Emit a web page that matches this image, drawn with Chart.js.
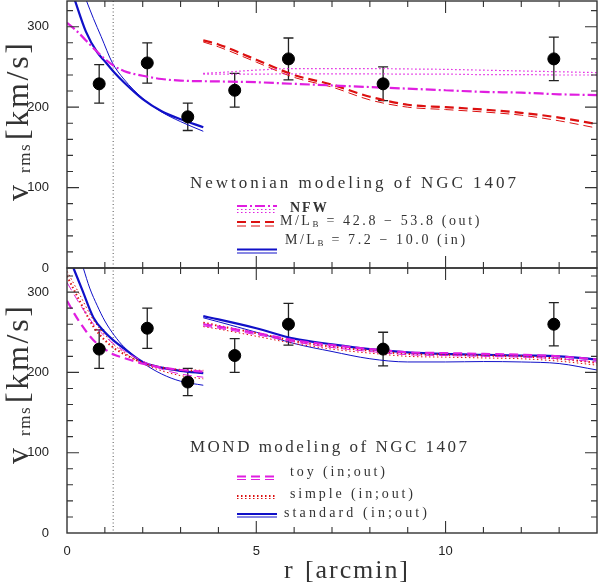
<!DOCTYPE html>
<html>
<head>
<meta charset="utf-8">
<title>NGC 1407 v_rms</title>
<script src="https://cdn.jsdelivr.net/npm/chart.js@4.4.1/dist/chart.umd.min.js"></script>
<style>
  body { margin: 0; background: #fff; }
  canvas { display: block; }
</style>
</head>
<body>
<canvas id="rmsChart" width="600" height="583"></canvas>
<script>
// measured v_rms (same points in both panels)
const rData = [0.85, 2.12, 3.19, 4.43, 5.85, 8.35, 12.86];
const vData = [229, 255, 188, 221, 260, 229, 260];
const vErr = [24, 25, 17, 21, 26, 21, 27];
const rEff = 1.22;

// Newtonian models (top panel)
const rNfw = [0, 0.25, 0.5, 0.75, 1, 1.25, 1.5, 2, 2.5, 3, 4, 5, 6, 7, 8, 9, 10, 11, 12, 13, 14];
const vNfw = [305, 295, 283, 271, 260, 251, 245, 239, 235, 233, 232, 231, 229, 227, 225, 223, 221, 219, 218, 216, 215];
const rOut = [3.6, 4, 5, 6, 7, 8, 9, 10, 11, 12, 13, 14];
const vNfwDot1 = [242, 243, 246, 248, 248, 248, 247.5, 247, 246, 245, 244, 243];
const vNfwDot2 = [241, 241, 241, 241.5, 241.5, 241.5, 241, 241, 240.5, 240.5, 240, 240];
const vMlOut1 = [283, 278, 259, 240, 228, 213, 203, 200, 197, 193, 187, 179];
const vMlOut2 = [281, 275, 256, 237, 225, 209, 200, 197, 194, 190, 183, 174];
const rMlIn1 = [0.2, 0.5, 0.8, 1.0, 1.25, 1.5, 2.0, 2.5, 3.0, 3.6];
const vMlIn1 = [334, 294, 268, 257, 243, 231, 210, 195, 185, 175];
const rMlIn2 = [0.5, 0.7, 0.9, 1.2, 1.5, 2.0, 2.5, 3.0, 3.6];
const vMlIn2 = [334, 310, 288, 255, 235, 211, 194, 182, 170];

// MOND models (bottom panel)
const rIn = [0, 0.3, 0.7, 1.0, 1.25, 1.5, 2.0, 2.5, 3.0, 3.6];
const vToyIn1 = [289, 265, 240, 229, 222, 218, 211, 206, 203, 201];
const vToyIn2 = [312, 288, 260, 245, 235, 227, 214, 204, 198, 194];
const vSimpleIn1 = [320, 292, 257, 240, 230, 223, 212, 206, 203, 202];
const vSimpleIn2 = [326, 300, 265, 247, 234, 225, 211, 202, 196, 192];
const rStdIn1 = [0.17, 0.4, 0.7, 1.0, 1.25, 1.5, 2.0, 2.5, 3.0, 3.6];
const vStdIn1 = [330, 303, 268, 250, 239, 230, 213, 206, 202, 199];
const rStdIn2 = [0.43, 0.6, 0.8, 1.0, 1.25, 1.5, 2.0, 2.5, 3.0, 3.6];
const vStdIn2 = [330, 305, 283, 264, 246, 232, 212, 198, 189, 184];
const vToyOut1 = [260, 257, 249, 240, 234, 229, 225, 224, 223, 222, 220, 216];
const vToyOut2 = [258, 255, 247, 238, 231, 226, 222, 221, 220, 219, 217, 213];
const vSimpleOut1 = [262, 258, 249, 239, 232, 227, 223, 222, 221, 220, 217, 212];
const vSimpleOut2 = [257, 254, 245, 236, 229, 224, 220, 219, 218, 217, 214, 209];
const vStdOut1 = [270, 266, 255, 242, 235, 229, 225, 223, 222, 221, 220, 216];
const vStdOut2 = [268, 263, 250, 236, 226, 217, 213, 213, 213.5, 213, 211, 203];

const xTicksShown = [0, 5, 10];

const MAGENTA = "#e01ee0";
const RED = "#dc1010";
const BLUE = "#1010c8";
const INK = "#222";

const DASH_DOT = [10, 3, 2, 3];
const DASHED = [9, 5];
const DOTTED = [1.5, 2.5];


function curve(r, v, axis, color, width, dash) {
  return {
    type: "line",
    data: r.map((x, i) => ({ x: x, y: v[i] })),
    yAxisID: axis,
    borderColor: color,
    borderWidth: width,
    borderDash: dash || [],
    pointRadius: 0,
    cubicInterpolationMode: "monotone",
    fill: false,
  };
}

function points(axis) {
  return {
    type: "scatter",
    data: rData.map((x, i) => ({ x: x, y: vData[i] })),
    yAxisID: axis,
    showLine: false,
    pointRadius: 6,
    pointBackgroundColor: "#000",
    pointBorderColor: "#000",
    order: -1,
  };
}

const datasets = [
  curve(rNfw, vNfw, "yTop", MAGENTA, 2.2, DASH_DOT),
  curve(rOut, vNfwDot1, "yTop", MAGENTA, 1.2, DOTTED),
  curve(rOut, vNfwDot2, "yTop", MAGENTA, 1.2, DOTTED),
  curve(rOut, vMlOut1, "yTop", RED, 2.2, DASHED),
  curve(rOut, vMlOut2, "yTop", RED, 1, DASHED),
  curve(rMlIn1, vMlIn1, "yTop", BLUE, 2.2),
  curve(rMlIn2, vMlIn2, "yTop", BLUE, 1),
  points("yTop"),

  curve(rIn, vToyIn1, "yBot", MAGENTA, 2.2, DASHED),
  curve(rIn, vToyIn2, "yBot", MAGENTA, 1, DASHED),
  curve(rIn, vSimpleIn1, "yBot", RED, 2, DOTTED),
  curve(rIn, vSimpleIn2, "yBot", RED, 1, DOTTED),
  curve(rStdIn1, vStdIn1, "yBot", BLUE, 2.2),
  curve(rStdIn2, vStdIn2, "yBot", BLUE, 1),
  curve(rOut, vToyOut1, "yBot", MAGENTA, 2.2, DASHED),
  curve(rOut, vToyOut2, "yBot", MAGENTA, 1, DASHED),
  curve(rOut, vSimpleOut1, "yBot", RED, 2, DOTTED),
  curve(rOut, vSimpleOut2, "yBot", RED, 1, DOTTED),
  curve(rOut, vStdOut1, "yBot", BLUE, 2.2),
  curve(rOut, vStdOut2, "yBot", BLUE, 1),
  points("yBot"),
];


// draw text letter by letter so it can be stretched like the SM fonts
function spaced(c, text, x, y, spacing) {
  for (const ch of text) {
    c.fillText(ch, x, y);
    x += c.measureText(ch).width + spacing;
  }
  return x;
}

function fitted(c, text, x, y, width) {
  let w = 0;
  for (const ch of text) w += c.measureText(ch).width;
  const n = [...text].length;
  return spaced(c, text, x, y, n > 1 ? (width - w) / (n - 1) : 0);
}

function sample(c, x1, x2, y, color, width, dash) {
  c.save();
  c.strokeStyle = color;
  c.lineWidth = width;
  c.setLineDash(dash || []);
  c.beginPath();
  c.moveTo(x1, y);
  c.lineTo(x2, y);
  c.stroke();
  c.restore();
}

function yTitle(c, x, y) {
  c.save();
  c.translate(x, y);
  c.rotate(-Math.PI / 2);
  c.fillStyle = "#333";
  c.textBaseline = "alphabetic";
  c.font = "32px 'Liberation Serif'";
  c.fillText("v", 0, 0);
  c.font = "17px 'Liberation Serif'";
  spaced(c, "rms", 28, 2, 1.5);
  c.font = "32px 'Liberation Serif'";
  fitted(c, "[km/s]", 61, 0, 97);
  c.restore();
}

function yScaleOptions(max, weight) {
  return {
    type: "linear",
    position: "left",
    stack: "panels",
    stackWeight: weight,
    min: 0,
    max: max,
    grid: { display: false },
    border: { display: false },
    ticks: {
      stepSize: 20,
      autoSkip: false,
      padding: 10,
      color: INK,
      font: { family: "'Liberation Sans'", size: 13 },
      callback: (v) => (v % 100 === 0 ? String(v) : ""),
    },
    afterFit: (scale) => {
      scale.width = 67;
      scale.paddingTop = 0;
      scale.paddingBottom = 0;
    },
  };
}


const decor = {
  id: "decor",
  beforeDatasetsDraw(chart) {
    const c = chart.ctx;
    const xs = chart.scales.x;
    const area = chart.chartArea;

    // effective radius marker
    c.save();
    c.strokeStyle = "#555";
    c.lineWidth = 1;
    c.setLineDash([1, 2.5]);
    const xe = xs.getPixelForValue(rEff);
    c.beginPath();
    c.moveTo(xe, area.top);
    c.lineTo(xe, area.bottom);
    c.stroke();
    c.restore();

    // error bars
    ["yTop", "yBot"].forEach((id) => {
      const ys = chart.scales[id];
      c.save();
      c.strokeStyle = INK;
      c.lineWidth = 1.3;
      rData.forEach((r, i) => {
        const px = xs.getPixelForValue(r);
        const lo = ys.getPixelForValue(vData[i] - vErr[i]);
        const hi = ys.getPixelForValue(vData[i] + vErr[i]);
        c.beginPath();
        c.moveTo(px, lo);
        c.lineTo(px, hi);
        c.moveTo(px - 5, lo);
        c.lineTo(px + 5, lo);
        c.moveTo(px - 5, hi);
        c.lineTo(px + 5, hi);
        c.stroke();
      });
      c.restore();
    });
  },

  afterDraw(chart) {
    const c = chart.ctx;
    const xs = chart.scales.x;

    ["yTop", "yBot"].forEach((id) => {
      const ys = chart.scales[id];
      const L = xs.left, R = xs.right, T = ys.top, B = ys.bottom;
      c.save();
      c.strokeStyle = "#333";
      c.lineWidth = 1.4;
      c.strokeRect(L, T, R - L, B - T);
      c.lineWidth = 1.1;
      c.beginPath();
      for (let v = 1; v < xs.max; v += 1) {
        const px = xs.getPixelForValue(v);
        const len = v % 5 === 0 ? 12 : 6;
        c.moveTo(px, B); c.lineTo(px, B - len);
        c.moveTo(px, T); c.lineTo(px, T + len);
      }
      for (let v = 20; v < ys.max; v += 20) {
        const py = ys.getPixelForValue(v);
        const len = v % 100 === 0 ? 12 : 6;
        c.moveTo(L, py); c.lineTo(L + len, py);
        c.moveTo(R, py); c.lineTo(R - len, py);
      }
      c.stroke();
      c.restore();
    });

    const top = chart.scales.yTop;
    const bot = chart.scales.yBot;

    c.save();
    c.fillStyle = "#333";
    c.textBaseline = "middle";

    // Newtonian panel legend
    c.font = "17px 'Liberation Serif'";
    fitted(c, "Newtonian modeling of NGC 1407", 190, 184, 326);
    sample(c, 237, 277, 206, MAGENTA, 2, DASH_DOT);
    sample(c, 237, 277, 209.5, MAGENTA, 1.1, DOTTED);
    sample(c, 237, 277, 212.5, MAGENTA, 1.1, DOTTED);
    sample(c, 237, 277, 222, RED, 2.2, DASHED);
    sample(c, 237, 277, 226, RED, 1, DASHED);
    sample(c, 237, 277, 249.5, BLUE, 2.2);
    sample(c, 237, 277, 253, BLUE, 1);
    c.font = "bold 14px 'Liberation Serif'";
    spaced(c, "NFW", 290, 208, 2);
    c.font = "14px 'Liberation Serif'";
    let x = spaced(c, "M/L", 280, 221, 2.5);
    c.font = "9px 'Liberation Serif'";
    x = spaced(c, "B", x, 225, 0);
    c.font = "14px 'Liberation Serif'";
    spaced(c, " = 42.8 − 53.8 (out)", x + 2, 221, 2.6);
    x = spaced(c, "M/L", 285, 240, 2.5);
    c.font = "9px 'Liberation Serif'";
    x = spaced(c, "B", x, 244, 0);
    c.font = "14px 'Liberation Serif'";
    spaced(c, " = 7.2 − 10.0 (in)", x + 2, 240, 2.6);

    // MOND panel legend
    c.font = "17px 'Liberation Serif'";
    fitted(c, "MOND modeling of NGC 1407", 190, 448, 277);
    sample(c, 237, 277, 476.5, MAGENTA, 2.2, DASHED);
    sample(c, 237, 277, 479.5, MAGENTA, 1, DASHED);
    sample(c, 237, 277, 496, RED, 1.8, DOTTED);
    sample(c, 237, 277, 498.5, RED, 1, DOTTED);
    sample(c, 237, 277, 514, BLUE, 2.2);
    sample(c, 237, 277, 517, BLUE, 1);
    c.font = "14px 'Liberation Serif'";
    fitted(c, "toy (in;out)", 290, 472, 95);
    fitted(c, "simple (in;out)", 290, 494, 123);
    fitted(c, "standard (in;out)", 284, 513, 143);

    // axis titles
    c.textBaseline = "alphabetic";
    c.font = "26px 'Liberation Serif'";
    c.fillText("r", 284, 578);
    fitted(c, "[arcmin]", 305, 578, 103);
    c.restore();

    yTitle(c, 28, top.bottom - 67);
    yTitle(c, 28, bot.bottom - 69);
  },
};


const ctx = document.getElementById("rmsChart").getContext("2d");
const rmsChart = new Chart(ctx, {
  type: "line",
  data: { datasets: datasets },
  options: {
    responsive: false,
    animation: false,
    layout: { padding: { left: 0, right: 3, top: 1, bottom: 0 }, autoPadding: false },
    plugins: {
      legend: { display: false },
      tooltip: { enabled: false },
    },
    scales: {
      x: {
        type: "linear",
        min: 0,
        max: 14,
        grid: { display: false },
        border: { display: false },
        ticks: {
          stepSize: 1,
          autoSkip: false,
          maxRotation: 0,
          padding: 3,
          color: INK,
          font: { family: "'Liberation Sans'", size: 13 },
          callback: (v) => (xTicksShown.includes(v) ? String(v) : ""),
        },
        afterFit: (scale) => {
          scale.height = 50;
          scale.paddingLeft = 0;
          scale.paddingRight = 0;
        },
      },
      // later stacked axis is placed on top
      yBot: yScaleOptions(330, 265),
      yTop: yScaleOptions(332, 267),
    },
  },
  plugins: [decor],
});
</script>
</body>
</html>
